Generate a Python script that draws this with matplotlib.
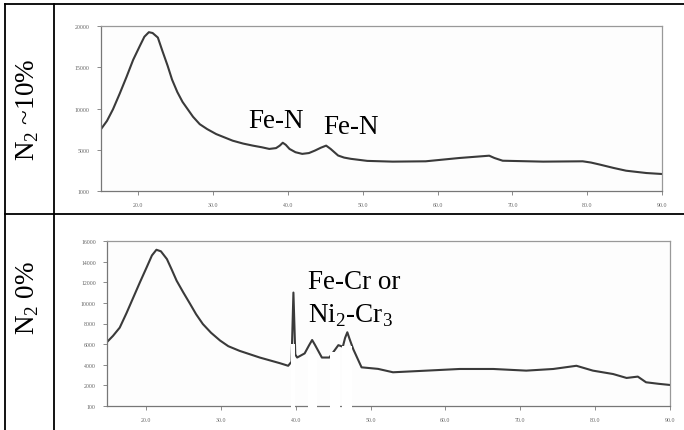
import numpy as np
import matplotlib
matplotlib.use('Agg')
import matplotlib.pyplot as plt
from matplotlib.lines import Line2D
from matplotlib.patches import Rectangle

plt.rcParams['font.family'] = ['Liberation Serif', 'DejaVu Serif']
plt.rcParams['mathtext.fontset'] = 'custom'
plt.rcParams['mathtext.rm'] = 'Liberation Serif'

# ---- data (2-theta, counts) ----
top_x = [15.0, 15.8, 16.6, 17.5, 18.4, 19.3, 20.2, 20.8, 21.4, 21.9, 22.6, 23.2,
         23.9, 24.5, 25.2, 25.9, 26.6, 27.3, 28.2, 29.2, 30.4, 31.5, 32.6, 34.0,
         35.3, 36.5, 37.5, 38.4, 38.9, 39.3, 39.7, 40.2, 41.0, 41.9, 42.8, 43.6,
         44.4, 45.1, 45.7, 46.7, 47.5, 48.4, 50.6, 54.0, 58.4, 62.9, 66.9, 67.6,
         68.7, 74.1, 79.4, 80.5, 81.7, 83.5, 85.2, 87.9, 90.0]
top_y = [7500, 8500, 9900, 11800, 13800, 15900, 17600, 18700, 19250, 19150, 18600, 17000,
         15200, 13500, 12000, 10800, 9900, 9000, 8100, 7500, 6900, 6500, 6100, 5750,
         5500, 5300, 5100, 5200, 5500, 5850, 5600, 5100, 4700, 4500, 4600, 4900,
         5250, 5500, 5100, 4300, 4050, 3900, 3650, 3560, 3600, 4000, 4280, 4000,
         3670, 3560, 3600, 3450, 3200, 2800, 2460, 2180, 2060]

bot_x = [14.8, 15.6, 16.5, 17.4, 18.3, 19.2, 20.1, 20.8, 21.4, 22.0, 22.8, 23.4,
         24.1, 25.0, 25.9, 26.7, 27.6, 28.7, 29.9, 31.0, 32.5, 35.2, 37.9, 39.0,
         39.45, 39.7, 39.95, 40.2, 41.2, 41.8, 42.2, 42.6, 43.5, 44.5, 45.7, 46.3,
         46.6, 46.9, 47.2, 47.7, 48.8, 51.0, 53.0, 57.5, 61.9, 66.4, 70.8, 74.4,
         77.5, 79.7, 82.4, 84.2, 85.7, 86.8, 88.5, 90.0]
bot_y = [6200, 6800, 7600, 9000, 10500, 12000, 13450, 14600, 15150, 15000, 14250, 13300,
         12150, 11000, 9900, 8900, 7950, 7100, 6350, 5800, 5350, 4700, 4150, 3900,
         4300, 11000, 5000, 4700, 5100, 5900, 6400, 5900, 4700, 4700, 5900, 5750,
         6600, 7150, 6500, 5500, 3750, 3600, 3270, 3430, 3590, 3590, 3430, 3590,
         3900, 3430, 3100, 2720, 2850, 2300, 2150, 2040]

# white patches left over in the scan (x0, x1, y top)
mask_boxes = [(39.4, 39.9, 6000), (41.6, 42.8, 5000), (44.6, 45.9, 5200), (46.2, 47.5, 5800)]

x_ticks = [20, 30, 40, 50, 60, 70, 80, 90]
x_labels = ['20.0', '30.0', '40.0', '50.0', '60.0', '70.0', '80.0', '90.0']
top_yticks = [0, 5000, 10000, 15000, 20000]
top_ylabels = ['1000', '5000', '10000', '15000', '20000']
bot_yticks = [0, 2000, 4000, 6000, 8000, 10000, 12000, 14000, 16000]
bot_ylabels = ['100', '2000', '4000', '6000', '8000', '10000', '12000', '14000', '16000']

W, H = 684, 431
fig = plt.figure(figsize=(W / 100, H / 100), dpi=100)


def px(x0, y0, x1, y1):
    return [x0 / W, 1 - y1 / H, (x1 - x0) / W, (y1 - y0) / H]


def style(ax, xs, ys, xlim, ylim, yt, yl):
    ax.plot(xs, ys, color='#3a3a3a', lw=1.5, solid_joinstyle='round')
    ax.set_xlim(*xlim)
    ax.set_ylim(*ylim)
    ax.set_xticks(x_ticks)
    ax.set_xticklabels(x_labels)
    ax.set_yticks(yt)
    ax.set_yticklabels(yl)
    ax.tick_params(length=3, width=0.6, color='#777', labelsize=4.2,
                   labelcolor='#666', pad=5)
    for s in ax.spines.values():
        s.set_color('#999')
        s.set_linewidth(0.9)
    ax.spines['left'].set_color('#777')
    ax.spines['bottom'].set_color('#777')
    ax.set_facecolor('#fdfdfd')


ax1 = fig.add_axes(px(101, 27, 662, 192))
style(ax1, top_x, top_y, (15, 90), (0, 20000), top_yticks, top_ylabels)

ax2 = fig.add_axes(px(107, 242, 670, 407))
style(ax2, bot_x, bot_y, (14.8, 90), (0, 16000), bot_yticks, bot_ylabels)
for x0, x1, yt in mask_boxes:
    ax2.add_patch(Rectangle((x0, -300), x1 - x0, yt + 300, facecolor='white',
                            edgecolor='none', zorder=5, clip_on=False))

# table lines
lw = 1.3
for line in [((5, 684), (5, 5)), ((5, 684), (215, 215)),
             ((5, 5), (5, 431)), ((53.5, 53.5), (5, 431))]:
    fig.add_artist(Line2D([p / W for p in line[0]], [1 - p / H for p in line[1]],
                          color='black', lw=lw))

fs = 19.5
fig.text(28 / W, 1 - 110 / H, 'N$_\\mathregular{2}$ ~10%', rotation=90,
         ha='center', va='center', fontsize=fs)
fig.text(28 / W, 1 - 298 / H, 'N$_\\mathregular{2}$ 0%', rotation=90,
         ha='center', va='center', fontsize=fs)
fig.text(248 / W, 1 - 128 / H, 'Fe-N', fontsize=fs, va='baseline')
fig.text(323 / W, 1 - 134 / H, 'Fe-N', fontsize=fs, va='baseline')
fig.text(308 / W, 1 - 289 / H, 'Fe-Cr or', fontsize=fs, va='baseline')
fig.text(308 / W, 1 - 323 / H, 'Ni$_\\mathregular{2}$-Cr$_\\mathregular{3}$',
         fontsize=fs, va='baseline')

fig.savefig('out.png', dpi=100)
